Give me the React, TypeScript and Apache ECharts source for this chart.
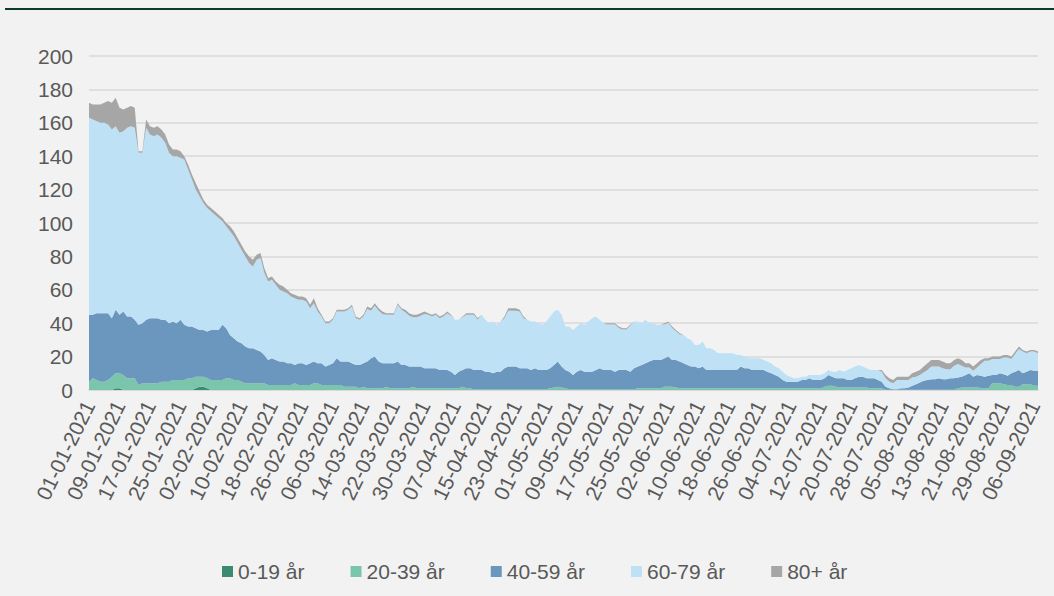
import React, { useEffect, useRef } from "react";
import * as echarts from "echarts";

// ---- data (daily, from 01-01-2021) ----
const seriesNames = ["0-19 år", "20-39 år", "40-59 år", "60-79 år", "80+ år"];
const seriesColors = ["#3d8a73", "#7ac5ac", "#6b97bf", "#bfe1f6", "#a6a6a6"];

const age0_19 = [
  0,0,0,0,0,0,0,1,1,0, 0,0,0,0,0,0,0,0,0,0, 0,0,0,0,0,0,0,0,1,2,
  2,1,0,0,0,0,0,0,0,0, 0,0,0,0,0,0,0,0,0,0, 0,0,0,0,0,0,0,0,0,0,
  0,0,0,0,0,0,0,0,0,0, 0,0,0,0,0,0,0,0,0,0, 0,0,0,0,0,0,0,0,0,0,
  0,0,0,0,0,0,0,0,0,0, 0,0,0,0,0,0,0,0,0,0, 0,0,0,0,0,0,0,0,0,0,
  0,0,0,0,0,0,0,0,0,0, 0,0,0,0,0,0,0,0,0,0, 0,0,0,0,0,0,0,0,0,0,
  0,0,0,0,0,0,0,0,0,0, 0,0,0,0,0,0,0,0,0,0, 0,0,0,0,0,0,0,0,0,0,
  0,0,0,0,0,0,0,0,0,0, 0,0,0,0,0,0,0,0,0,0, 0,0,0,0,0,0,0,0,0,0,
  0,0,0,0,0,0,0,0,0,0, 0,0,0,0,0,0,0,0,0,0, 0,0,0,0,0,0,0,0,0,0,
  0,0,0,0,0,0,0,0,0,0,
];

const age20_39 = [
  5,7,6,5,5,6,8,9,9,9,
  7,7,7,3,4,4,4,4,4,5,
  5,5,6,6,6,6,7,7,7,6,
  6,6,6,6,6,6,7,7,6,6,
  5,4,4,4,4,4,4,3,3,3,
  3,3,3,3,4,3,3,3,3,4,
  4,3,3,3,3,3,3,2,2,2,
  2,1,2,1,1,1,1,1,2,1,
  1,1,1,1,1,2,1,1,1,1,
  1,1,1,1,1,1,1,1,2,1,
  1,0.5,0.5,0.5,0.5,0.5,0.5,0.5,0.5,0.5,
  0.5,0.5,0.5,0.5,0.5,0.5,0.5,0.5,0.5,0.5,
  0.5,1,1.5,2,1.5,1,0.5,0.5,0.5,0.5,
  0.5,0.5,0.5,0.5,0.5,0.5,0.5,0.5,0.5,0.5,
  0.5,0.5,0.5,0.5,1,1,1,1,1,1,
  1,2,2,2,1.5,1,1,1,1,1,
  1,1,1,1,1,1,1,1,1,1,
  1,1,1,1,1,1,1,1,1,1,
  1,1,1,1,1,1,1,1,1,1,
  1,1,1,2,2.5,2.5,2,1.5,1.5,1.5,
  1.5,1.5,1.5,1.5,1.5,1,1,1,1,0.2,
  0.2,0.2,0.2,0.2,0.2,0.2,0.2,0.2,0.2,0.2,
  0.2,0.2,0.2,0.2,0.2,0.2,0.2,0.2,1,1.5,
  1.5,1.5,1.5,2,1,1,1,4,4,4,
  3.5,3,3,2,2,3.5,3.5,3.5,2.5,2.5,
];

const age40_59 = [
  40,38,40,41,41,40,35,38,35,38,
  37,37,35,36,36,38,39,39,39,37,
  37,35,35,34,36,33,31,31,29,28,
  28,28,30,30,30,33,30,26,25,23,
  23,22,21,21,20,19,17,15,16,15,
  14,14,13,13,11,13,13,12,13,13,
  12,13,11,12,13,16,14,15,15,14,
  13,14,14,16,18,19,16,15,14,15,
  15,16,14,14,13,12,13,13,12,12,
  12,12,11,11,11,10,8,10,10,12,
  12,11.5,11.5,11.5,10.5,10.5,9.5,10.5,10.5,12.5,
  13.5,13.5,13.5,12.5,12.5,12.5,11.5,12.5,11.5,11.5,
  11.5,12,13.5,15,12.5,11,10.5,8.5,10.5,11.5,
  10.5,10.5,10.5,11.5,12.5,11.5,11.5,11.5,10.5,11.5,
  11.5,11.5,10.5,12.5,13,14,15,16,17,17,
  17,17,18,16,16.5,16,15,14,13,13,
  12,13,11,11,11,11,11,11,11,11,
  11,13,12,12,11,11,11,11,10,9,
  8,7,5,4,4,4,4,5,5,6,
  5,5,5,5,6.5,5.5,5,5.5,5.5,4.5,
  4.5,5.5,6.5,6.5,5.5,6,6,5,4,1.8,
  0.8,0.3,0.3,0.8,0.8,1.3,2.3,3.3,4.3,5.3,
  5.8,6.3,6.3,6.8,6.3,6.3,6.8,6.8,6.5,6.5,
  7.5,8.5,6.5,7,7.5,7,7.5,5,5,6,
  6,5.5,7,9,10,6.5,7.5,8.5,9,9,
];

const age60_79 = [
  118,117,115,114,114,113,113,110,109,108,
  113,114,115,103,102,115,110,109,110,109,
  106,102,99,100,97,99,94,88,83,80,
  76,74,71,69,67,62,61,62,61,59,
  56,54,51,49,54,56,49,47,47,45,
  43,42,42,40,40,38,38,38,33,35,
  31,28,26,25,26,28,30,30,31,34,
  28,27,28,31.5,28.5,30.5,30.5,29.5,29,29,
  29,34,33,31.5,30.5,29.5,29.5,30.5,32.5,32,
  31,32,31,32,34,33.5,33,31,31.5,32,
  32,33,30,33,31,29,31,28,30,30,
  33.5,33.5,33.5,34,30,29,29,28,28,27,
  29,31,32,31,31,26,27,27,27,28,
  28,30,32,32,29,28,27.2,27.2,28.2,25.2,
  24.2,24.2,27.5,28,27,25,26,23,22,21,
  21,20.2,20.2,19.2,17.2,16.2,17,16,16,13,
  14,15,13,13,12,10,10,10,10,10,
  9,7,7,6,7,7,7,6,6,6,
  5,5,5,4,3,2,2,2,2,2,
  3,3,3,3,3,3,4,5,4,6,
  7,7,7,6,6,5,5,6,6,5,
  4,3.5,5.5,5,5,4.5,5,4.5,4.5,5,
  6,7.5,7.5,7,6.5,6,5.5,7.5,8,6.5,
  4.5,3.5,3.5,4.5,7,9.5,9,9.5,9.5,8.5,
  10,11,8.5,10.5,12.5,13,11,11,11.5,10.5,
];

const age80plus = [
  9,9,10,11,12,14,16,17,15,13,
  12,12,12,1,1,5,5,5,5,5,
  5,5,4,4,4,2,3,3,4,3,
  2,2,2,2,2,2,2,3,3,3,
  3,3,4,4,3,3,3,2,2,2,
  3,3,2,2,2,2,2,2,2,3,
  2,1,1,1,1,1,1,1,1,1,
  1,1,1,1.5,1.5,1.5,1.5,1.5,1,1,
  1,1,1,1.5,1.5,1.5,1.5,1.5,1.5,1,
  1,1,1,1,1,0.5,0,0,0.5,1,
  1,1,1,0,0,0,0,0,0,1,
  1.5,1.5,1.5,1,1,0,0,0,0,0,
  0,0,0,0,0,0,0,0,0,0,
  0,0,0,0,0,0,0.8,0.8,0.8,0.8,
  0.8,0.8,0.5,0,0,0,0,0,0,0,
  0,0.8,0.8,0.8,0.8,0.8,0,0,0,0,
  0,0,0,0,0,0,0,0,0,0,
  0,0,0,0,0,0,0,0,0,0,
  0,0,0,0,0,0,0,0,0,0,
  0,0,0,0,0,0,0,0,0,0,
  0,0,0,0,0,0,0,0,1,2,
  2,2,2,2,2,2,2.5,3,3,3.5,
  4,4,4,4,4,3.5,3.5,3.5,3.5,3.5,
  2.5,2.5,2.5,2.5,2.5,1.5,1.5,1.5,1.5,1.5,
  1.5,1.5,1.5,1.5,1.5,1,1,1,1,1,
];

const yTicks = { min: 0, max: 200, interval: 20 };

// category labels: daily dates starting 01-01-2021
const pad = (n: number) => (n < 10 ? "0" + n : "" + n);
const startDate = Date.UTC(2021, 0, 1);
const dates: string[] = age20_39.map((_, i) => {
  const d = new Date(startDate + i * 86400000);
  return `${pad(d.getUTCDate())}-${pad(d.getUTCMonth() + 1)}-${d.getUTCFullYear()}`;
});

const FONT = "'Liberation Sans', Arial, sans-serif";
const TEXT = "#595959";

export default function App() {
  const ref = useRef<HTMLDivElement>(null);
  useEffect(() => {
    if (!ref.current) return;
    const chart = echarts.init(ref.current, undefined, { renderer: "svg" });
    const allData = [age0_19, age20_39, age40_59, age60_79, age80plus];
    chart.setOption({
      animation: false,
      backgroundColor: "#f2f2f2",
      textStyle: { fontFamily: FONT },
      grid: { left: 89, right: 16, top: 56, bottom: 206, containLabel: false },
      graphic: [
        {
          type: "rect",
          shape: { x: 5, y: 8, width: 1049, height: 2 },
          style: { fill: "#0c3b2e" },
          silent: true,
        },
      ],
      legend: {
        data: seriesNames,
        left: 217,
        top: 556,
        icon: "rect",
        itemWidth: 11,
        itemHeight: 11,
        itemGap: 46,
        textStyle: { fontSize: 21, color: TEXT, fontFamily: FONT },
      },
      xAxis: {
        type: "category",
        data: dates,
        boundaryGap: false,
        axisLine: { lineStyle: { color: "#d9d9d9", width: 1.5 } },
        axisTick: { show: false },
        splitLine: { show: false },
        axisLabel: {
          interval: 7,
          rotate: 64,
          margin: 12,
          color: TEXT,
          fontSize: 21,
          fontFamily: FONT,
        },
      },
      yAxis: {
        type: "value",
        min: yTicks.min,
        max: yTicks.max,
        interval: yTicks.interval,
        axisLine: { show: false },
        axisTick: { show: false },
        splitLine: { lineStyle: { color: "#d9d9d9", width: 1.5 } },
        axisLabel: { color: TEXT, fontSize: 21, fontFamily: FONT, margin: 16 },
      },
      series: seriesNames.map((name, k) => ({
        name,
        type: "line",
        stack: "total",
        data: allData[k],
        symbol: "none",
        showSymbol: false,
        lineStyle: { width: 0 },
        itemStyle: { color: seriesColors[k] },
        areaStyle: { color: seriesColors[k], opacity: 1 },
        emphasis: { disabled: true },
      })),
    });
    return () => chart.dispose();
  }, []);
  return (
    <div
      ref={ref}
      style={{ position: "fixed", left: 0, top: 0, width: 1054, height: 596 }}
    />
  );
}
